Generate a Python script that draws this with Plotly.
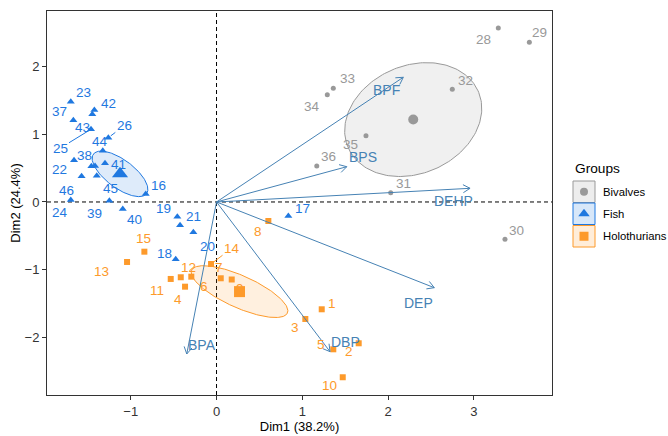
import numpy as np
import plotly.graph_objects as go

# ---- Individuals: coordinates on Dim1 / Dim2 ----
biv_id = ["28", "29", "30", "31", "32", "33", "34", "35", "36"]
biv_x = [3.284, 3.646, 3.362, 2.030, 2.748, 1.361, 1.291, 1.742, 1.168]
biv_y = [2.570, 2.359, -0.551, 0.137, 1.665, 1.679, 1.585, 0.979, 0.532]

fish_id = ["23", "42", "", "37", "43", "26", "44", "38", "", "", "41", "22",
           "", "46", "45", "40", "16", "19", "21", "20", "18", "17"]
fish_x = [-1.699, -1.424, -1.448, -1.669, -1.463, -1.261, -1.326, -1.661,
          -1.459, -1.416, -1.300, -1.573, -1.396, -1.699, -1.249, -1.093,
          -0.825, -0.457, -0.425, -0.270, -0.476, 0.837]
fish_y = [1.481, 1.359, 1.295, 1.207, 1.074, 0.950, 0.758, 0.616,
          0.527, 0.532, 0.572, 0.380, 0.388, 0.030, 0.019, -0.103,
          0.118, -0.217, -0.344, -0.448, -0.846, -0.207]

holo_id = [str(i) for i in range(1, 16)]
holo_x = [1.226, 1.657, 1.035, -0.367, 1.361, -0.294, 0.049, 0.604,
          0.177, 1.471, -0.534, -0.417, -1.043, -0.064, -0.841]
holo_y = [-1.585, -2.087, -1.728, -1.251, -2.176, -1.103, -1.127, -0.281,
          -1.145, -2.589, -1.137, -1.112, -0.886, -0.916, -0.734]

# ---- Variables ----
var_names = ["BPF", "BPS", "DEHP", "DEP", "DBP", "BPA"]
var_x = [2.177, 1.518, 2.955, 2.538, 1.323, -0.347]
var_y = [1.842, 0.521, 0.202, -1.266, -2.211, -2.245]

x_ticks = [-1, 0, 1, 2, 3]
y_ticks = [-2, -1, 0, 1, 2]
group_names = ["Bivalves", "Fish", "Holothurians"]

# ---- Styling ----
FONT = "Liberation Sans, Arial, sans-serif"
GRAY, BLUE, ORANGE = "#999999", "#1F78E0", "#FD9A2B"
STEEL = "#4682B4"
FILL_ALPHA = 0.15

W, H = 668, 436
M_L, M_R, M_T, M_B = 47, 0, 11, 41
PANEL_W = 505                      # main panel width in px
AREA_W = W - M_L - M_R
AREA_H = H - M_T - M_B
X_DOM = PANEL_W / AREA_W
XR = [-1.976, 3.910]
YR = [-2.851, 2.821]
KX = PANEL_W / (XR[1] - XR[0])     # px per unit
KY = AREA_H / (YR[1] - YR[0])

# label placement: text -> (anchor point id, dx px, dy px (down), leader line)
label_pos = {
    "Bivalves": {
        "28": ("28", -15, 12, False), "29": ("29", 10, -10, False),
        "30": ("30", 12, -9, False), "31": ("31", 13, -9, False),
        "32": ("32", 13, -9, False), "33": ("33", 14, -10, False),
        "34": ("34", -15, 12, False), "35": ("35", -15, 9, False),
        "36": ("36", 12, -9, False),
    },
    "Fish": {
        "23": ("23", 13, -9, False), "42": ("42", 14, -6, False),
        "37": ("37", -14, -9, False), "43": ("43", -9, -2, False),
        "25": ("43", -31, 19, True), "26": ("26", 16, -12, True),
        "44": ("44", -3, -9, False), "38": ("38", 10, -5, False),
        "41": ("41", 13, 1, False), "22": ("22", -22, -7, False),
        "46": ("46", -4, -9, False), "24": ("46", -11, 13, False),
        "45": ("45", 1, -12, False), "39": ("45", -15, 13, False),
        "40": ("40", 12, 11, False), "16": ("16", 13, -9, False),
        "19": ("19", -14, -8, False), "21": ("21", 13, -9, False),
        "20": ("20", 14, 14, False), "18": ("18", -11, -6, False),
        "17": ("17", 14, -8, False),
    },
    "Holothurians": {
        "1": ("1", 10, -6, False), "2": ("2", -10, 8, False),
        "3": ("3", -10, 9, False), "4": ("4", -7, 13, False),
        "5": ("5", -12, -5, False), "6": ("6", 13, 10, False),
        "7": ("7", -2, -11, False), "8": ("8", -10, 10, False),
        "9": ("9", 8, 9, False), "10": ("10", -13, 8, False),
        "11": ("11", -14, 12, False), "12": ("12", 8, -10, False),
        "13": ("13", -26, 10, False), "14": ("14", 21, -16, True),
        "15": ("15", -1, -13, False),
    },
}
var_label_off = {"BPF": (-17, 13), "BPS": (16, -10), "DEHP": (-17, 13),
                 "DEP": (-16, 15), "DBP": (15, -10), "BPA": (15, -9)}


def rgba(hex_color, a):
    h = hex_color.lstrip("#")
    r, g, b = int(h[0:2], 16), int(h[2:4], 16), int(h[4:6], 16)
    return f"rgba({r},{g},{b},{a})"


def conf_ellipse(x, y, level_chi2=-2 * np.log(0.05), n=200):
    """95% confidence ellipse around the group mean."""
    x, y = np.asarray(x), np.asarray(y)
    cov = np.cov(x, y) / len(x)
    vals, vecs = np.linalg.eigh(cov)
    t = np.linspace(0, 2 * np.pi, n)
    circ = np.vstack([np.cos(t), np.sin(t)])
    pts = vecs @ (np.sqrt(level_chi2 * vals)[:, None] * circ)
    return x.mean() + pts[0], y.mean() + pts[1]


groups = [
    ("Bivalves", biv_id, biv_x, biv_y, GRAY, "circle", 5, 10),
    ("Fish", fish_id, fish_x, fish_y, BLUE, "triangle-up", 7, 14),
    ("Holothurians", holo_id, holo_x, holo_y, ORANGE, "square", 6, 11),
]

fig = go.Figure()
annotations = []

# ellipses
for name, ids, gx, gy, col, sym, ms, cs in groups:
    ex, ey = conf_ellipse(gx, gy)
    fig.add_trace(go.Scatter(
        x=ex, y=ey, mode="lines", fill="toself",
        fillcolor=rgba(col, FILL_ALPHA), line=dict(color=col, width=1),
        hoverinfo="skip", showlegend=False))

# individuals and group means
for name, ids, gx, gy, col, sym, ms, cs in groups:
    fig.add_trace(go.Scatter(
        x=gx, y=gy, mode="markers", name=name,
        marker=dict(symbol=sym, size=ms, color=col, line=dict(width=0)),
        text=ids, hoverinfo="text", showlegend=False))
    fig.add_trace(go.Scatter(
        x=[float(np.mean(gx))], y=[float(np.mean(gy))], mode="markers",
        marker=dict(symbol=sym, size=cs, color=col, line=dict(width=0)),
        hoverinfo="skip", showlegend=False))
    lookup = {i: (xv, yv) for i, xv, yv in zip(ids, gx, gy) if i}
    for txt, (anchor, dx, dy, leader) in label_pos[name].items():
        px_, py_ = lookup[anchor]
        if leader:
            annotations.append(dict(
                x=px_, y=py_, text=txt, showarrow=True, ax=dx, ay=dy,
                arrowhead=0, arrowwidth=1, arrowcolor=col, standoff=3,
                font=dict(family=FONT, size=13.5, color=col)))
        else:
            annotations.append(dict(
                x=px_, y=py_, text=txt, showarrow=False,
                xshift=dx, yshift=-dy,
                font=dict(family=FONT, size=13.5, color=col)))

# variable arrows with open heads
head_len, head_ang = 8, np.radians(30)
for vn, vx, vy in zip(var_names, var_x, var_y):
    fig.add_trace(go.Scatter(
        x=[0, vx], y=[0, vy], mode="lines", line=dict(color=STEEL, width=1),
        hoverinfo="skip", showlegend=False))
    dxp, dyp = vx * KX, vy * KY
    L = np.hypot(dxp, dyp)
    ux, uy = dxp / L, dyp / L
    wings_x, wings_y = [], []
    for s in (1, -1):
        c, sn = np.cos(s * head_ang), np.sin(s * head_ang)
        bx = -(ux * c - uy * sn) * head_len
        by = -(ux * sn + uy * c) * head_len
        wings_x.append(vx + bx / KX)
        wings_y.append(vy + by / KY)
    fig.add_trace(go.Scatter(
        x=[wings_x[0], vx, wings_x[1]], y=[wings_y[0], vy, wings_y[1]],
        mode="lines", line=dict(color=STEEL, width=1),
        hoverinfo="skip", showlegend=False))
    ox, oy = var_label_off[vn]
    annotations.append(dict(
        x=vx, y=vy, text=vn, showarrow=False, xshift=ox, yshift=-oy,
        font=dict(family=FONT, size=14, color=STEEL)))

# ---- legend drawn in its own axes (pixel coordinates) ----
LX0 = M_L + 0.82 * AREA_W
key_rows = [(GRAY, "circle", 8), (BLUE, "triangle-up", 10), (ORANGE, "square", 9)]
key_top = [181, 203, 225.5]
key_h = 21.5
shapes = []
for (col, sym, sz), top, gname in zip(key_rows, key_top, group_names):
    shapes.append(dict(type="rect", xref="x2", yref="y2",
                       x0=573, x1=595, y0=top, y1=top + key_h,
                       fillcolor=rgba(col, 0.18), line=dict(color=col, width=1)))
    fig.add_trace(go.Scatter(
        x=[584], y=[top + key_h / 2], xaxis="x2", yaxis="y2", mode="markers",
        marker=dict(symbol=sym, size=sz, color=col, line=dict(width=0)),
        hoverinfo="skip", showlegend=False))
    annotations.append(dict(
        xref="x2", yref="y2", x=601, y=top + key_h / 2, text=gname,
        showarrow=False, xanchor="left", yanchor="middle",
        font=dict(family=FONT, size=11.3, color="#000000")))
annotations.append(dict(
    xref="x2", yref="y2", x=572.5, y=168.5, text="Groups", showarrow=False,
    xanchor="left", yanchor="middle",
    font=dict(family=FONT, size=13.7, color="#000000")))

# dashed reference lines
shapes.append(dict(type="line", xref="x", yref="y", x0=0, x1=0, y0=YR[0], y1=YR[1],
                   line=dict(color="black", width=1, dash="4px,3px"), layer="below"))
shapes.append(dict(type="line", xref="x", yref="y", x0=XR[0], x1=XR[1], y0=0, y1=0,
                   line=dict(color="black", width=1, dash="4px,3px"), layer="below"))

axis_common = dict(
    showgrid=False, zeroline=False, showline=True, mirror=True,
    linecolor="#333333", linewidth=1, ticks="outside", ticklen=4,
    tickcolor="#333333", tickfont=dict(family=FONT, size=13, color="#333333"),
)

fig.update_layout(
    width=W, height=H,
    margin=dict(l=M_L, r=M_R, t=M_T, b=M_B, pad=0),
    paper_bgcolor="white", plot_bgcolor="white",
    showlegend=False,
    xaxis=dict(domain=[0, X_DOM], range=XR, tickvals=x_ticks,
               title=dict(text="Dim1 (38.2%)", standoff=4,
                          font=dict(family=FONT, size=13, color="#000000")),
               **axis_common),
    yaxis=dict(range=YR, tickvals=y_ticks,
               title=dict(text="Dim2 (24.4%)", standoff=1,
                          font=dict(family=FONT, size=13, color="#000000")),
               **axis_common),
    xaxis2=dict(domain=[0.82, 1], range=[LX0, W], visible=False, anchor="y2"),
    yaxis2=dict(domain=[0, 1], range=[H - M_B, M_T], visible=False, anchor="x2"),
    shapes=shapes,
    annotations=annotations,
)

fig.write_html("out.html")
